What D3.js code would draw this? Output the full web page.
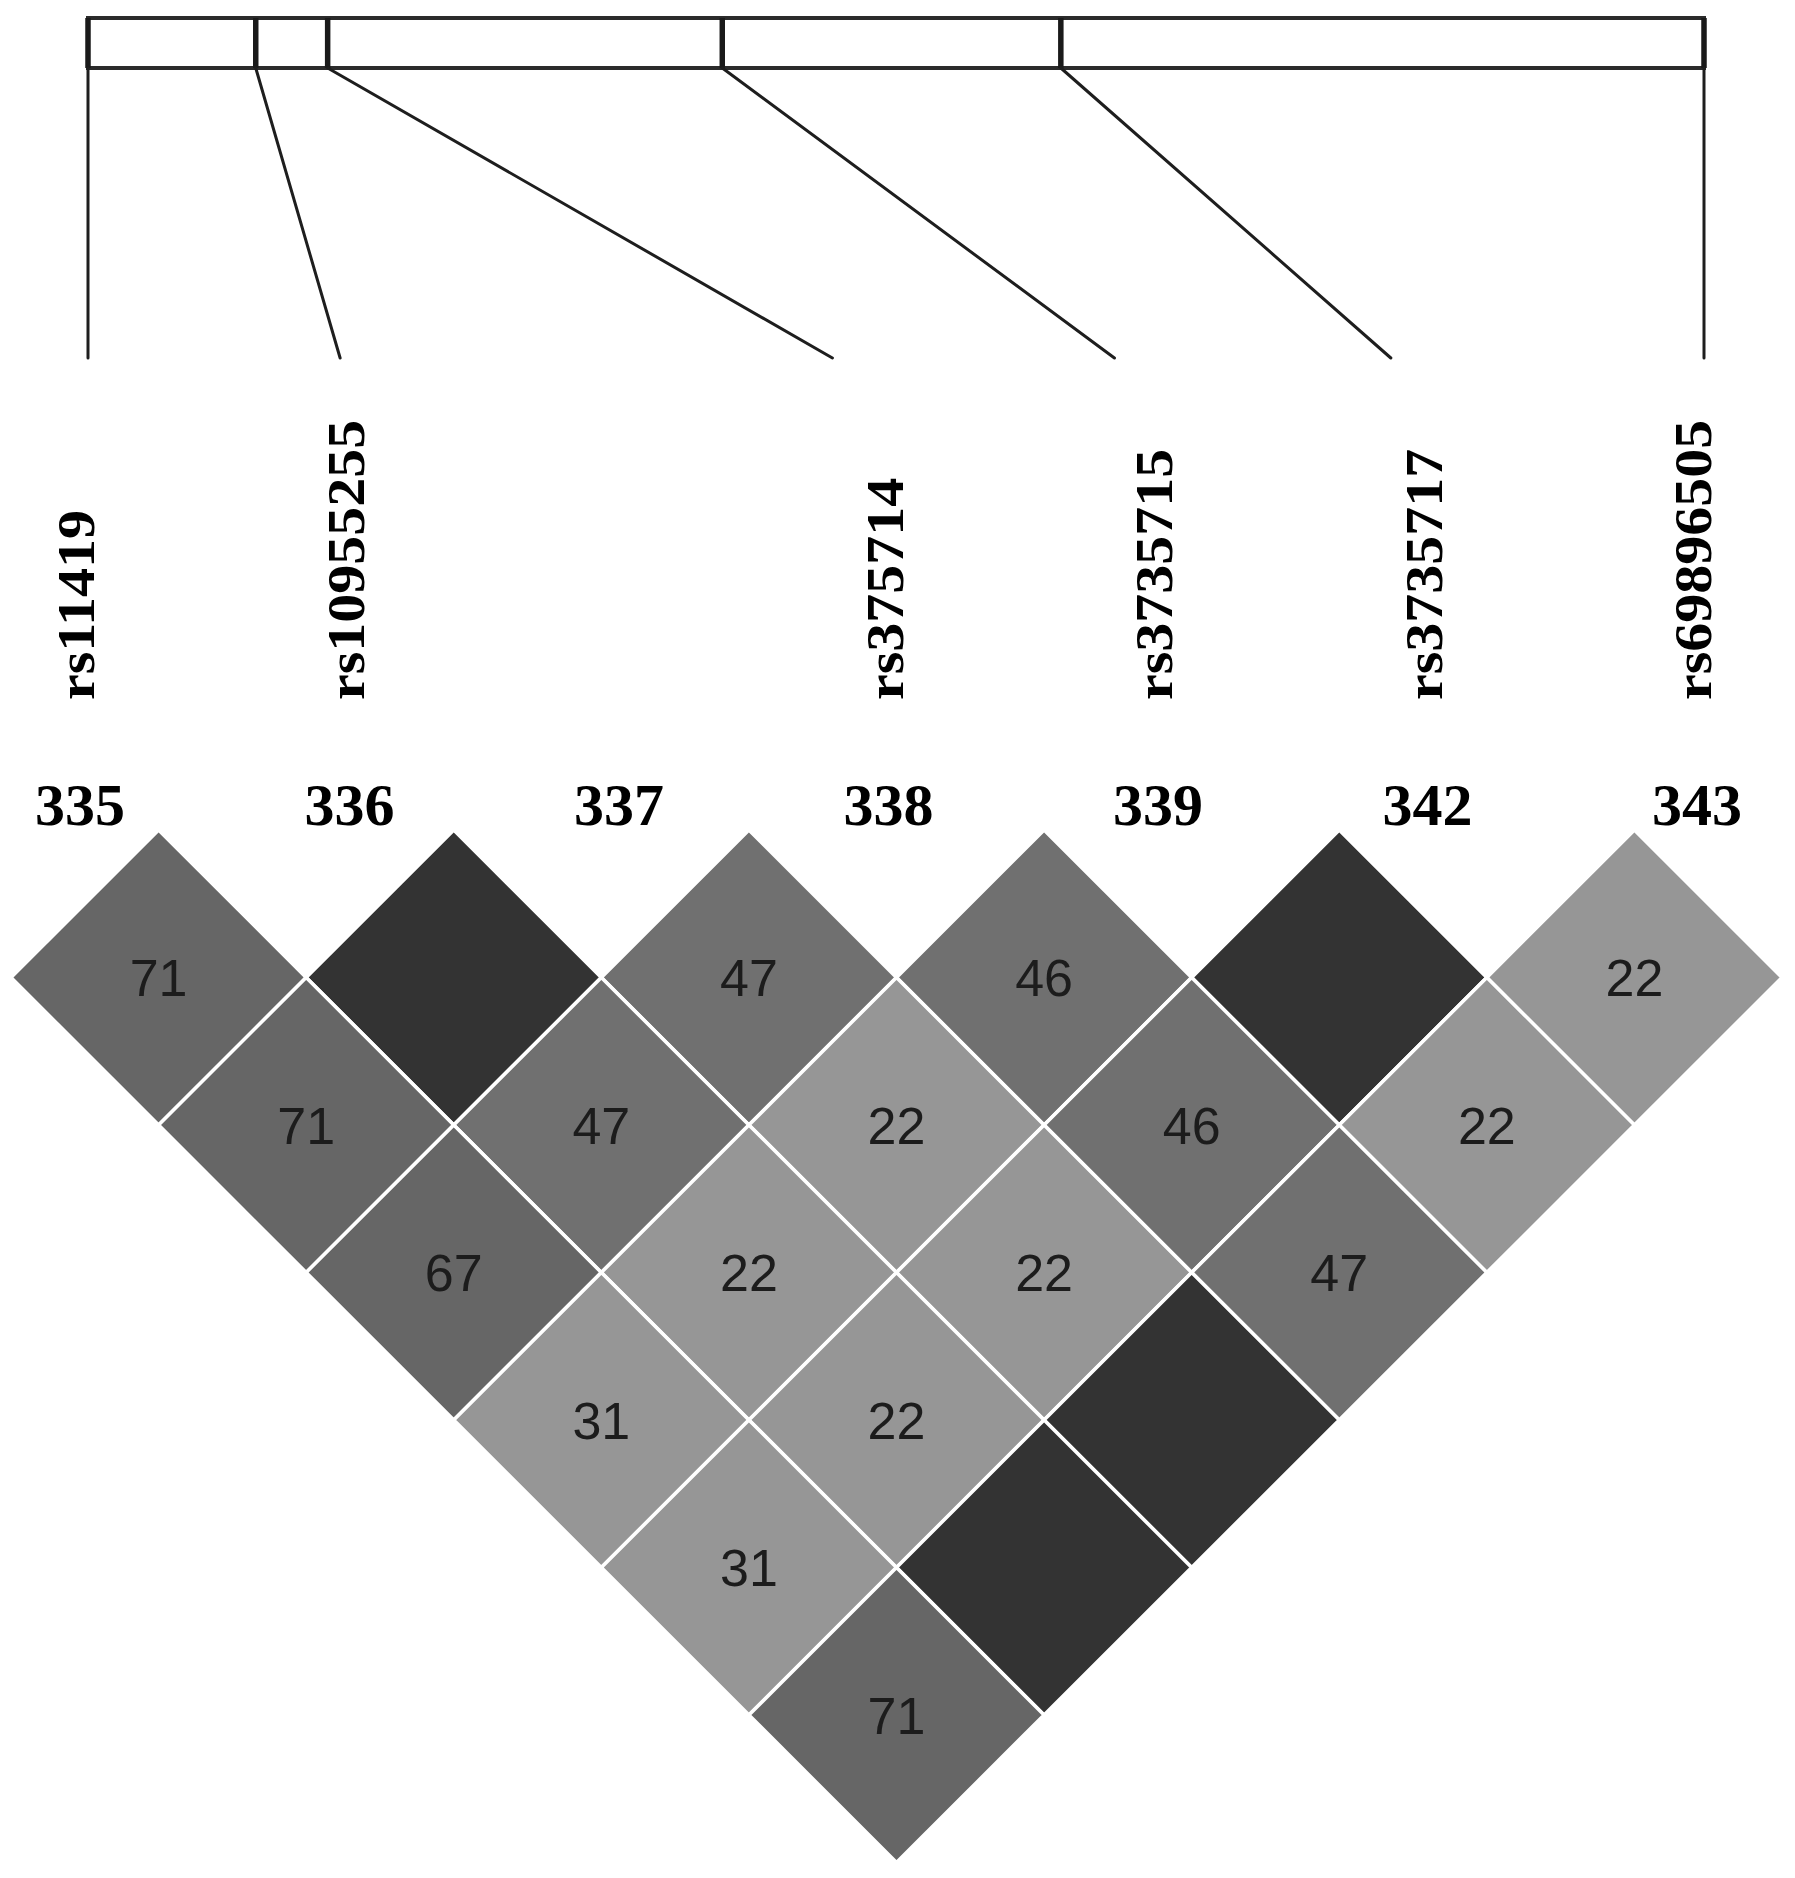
<!DOCTYPE html>
<html><head><meta charset="utf-8">
<script src="https://cdn.jsdelivr.net/npm/d3@7"></script>
<style>html,body{margin:0;padding:0;background:#fff;} svg{display:block;}</style>
</head><body>
<svg id="chart" width="1795" height="1878"></svg>
<script>
// ---- data ----
const markerNumbers = ["335", "336", "337", "338", "339", "342", "343"];
const snpNames = ["rs11419", "rs10955255", "rs375714", "rs3735715", "rs3735717", "rs69896505"];
const snpMarkerIndex = [0, 1, 3, 4, 5, 6];
// relative genomic position of each SNP along the gene track (0 .. 10000)
const snpGenomicPos = [0, 1038, 1483, 3925, 6020, 10000];
// pairwise LD values, one list per marker distance (1..6); 100 = complete LD (blank)
const ldDist1 = [71, 100, 47, 46, 100, 22];
const ldDist2 = [71, 47, 22, 46, 22];
const ldDist3 = [67, 22, 22, 47];
const ldDist4 = [31, 22, 100];
const ldDist5 = [31, 100];
const ldDist6 = [71];
const ldRows = [ldDist1, ldDist2, ldDist3, ldDist4, ldDist5, ldDist6];

// ---- build cell table ----
const cells = [];
ldRows.forEach((row, r) => {
  const d = r + 1;
  row.forEach((v, i) => cells.push({ i: i, j: i + d, d: d, value: v }));
});

const svg = d3.select("#chart");
svg.append("rect").attr("width", 1795).attr("height", 1878).attr("fill", "#fff");

// ---- scales ----
const nM = markerNumbers.length;
const xMarker = d3.scaleLinear().domain([0, nM - 1]).range([11, 1782]);
const halfW = (xMarker(1) - xMarker(0)) / 2;
const yDist = d3.scaleLinear().domain([0, nM - 1]).range([830, 830 + (nM - 1) * 147.5]);
const halfH = yDist(1) - yDist(0);
const xLabel = d3.scalePoint().domain(markerNumbers).range([80, 1697]);
const xGene = d3.scaleLinear().domain([0, 10000]).range([88, 1704]);
const shade = d3.scaleThreshold().domain([40, 60, 100]).range(["#969696", "#707070", "#666666", "#333333"]);

// ---- gene track ----
const trackTop = 18, trackBot = 68, lineEndY = 358, labelBaseY = 700;
const track = svg.append("g");
track.append("rect")
  .attr("x", xGene(0)).attr("y", trackTop)
  .attr("width", xGene(10000) - xGene(0)).attr("height", trackBot - trackTop)
  .attr("fill", "none").attr("stroke", "#2b2b2b").attr("stroke-width", 4);

const lastSnp = snpGenomicPos.length - 1;
snpGenomicPos.forEach((p, k) => {
  const gx = xGene(p);
  track.append("line")
    .attr("x1", gx).attr("x2", gx).attr("y1", trackTop).attr("y2", trackBot)
    .attr("stroke", "#1a1a1a").attr("stroke-width", 5.5);
  const target = xLabel(markerNumbers[snpMarkerIndex[k]]);
  // outermost SNPs drop straight down; inner ones slant toward their label
  const ex = (k === 0 || k === lastSnp) ? gx : gx + 0.9 * (target - gx);
  track.append("line")
    .attr("x1", gx).attr("y1", trackBot).attr("x2", ex).attr("y2", lineEndY)
    .attr("stroke", "#1e1e1e").attr("stroke-width", 3).attr("stroke-linecap", "round");
});

// ---- SNP names (rotated) ----
svg.append("g").selectAll("text").data(snpNames).join("text")
  .attr("transform", (d, k) => `translate(${xLabel(markerNumbers[snpMarkerIndex[k]]) - 4},${labelBaseY}) rotate(-90) scale(1,0.9)`)
  .attr("dy", "0.35em")
  .attr("font-family", "'Liberation Serif','Times New Roman',serif")
  .attr("font-weight", "bold").attr("font-size", 58).attr("fill", "#000")
  .text(d => d);

// ---- marker numbers ----
svg.append("g").selectAll("text").data(markerNumbers).join("text")
  .attr("x", d => xLabel(d)).attr("y", 825)
  .attr("text-anchor", "middle")
  .attr("font-family", "'Liberation Serif','Times New Roman',serif")
  .attr("font-weight", "bold").attr("font-size", 60).attr("fill", "#000")
  .text(d => d);

// ---- LD diamonds ----
const cx = c => (xMarker(c.i) + xMarker(c.j)) / 2;
const cy = c => yDist(c.d);
const gCells = svg.append("g");
gCells.selectAll("path").data(cells).join("path")
  .attr("d", c => {
    const x = cx(c), y = cy(c);
    return `M${x},${y - halfH}L${x + halfW},${y}L${x},${y + halfH}L${x - halfW},${y}Z`;
  })
  .attr("fill", c => shade(c.value))
  .attr("stroke", "#fff").attr("stroke-width", 3.5).attr("stroke-linejoin", "miter");

gCells.selectAll("text").data(cells.filter(c => c.value < 100)).join("text")
  .attr("x", cx).attr("y", cy)
  .attr("dy", "0.36em")
  .attr("text-anchor", "middle")
  .attr("font-family", "'Liberation Sans',Arial,sans-serif")
  .attr("font-size", 52).attr("fill", "#1c1c1c")
  .text(c => c.value);
</script>
</body></html>
